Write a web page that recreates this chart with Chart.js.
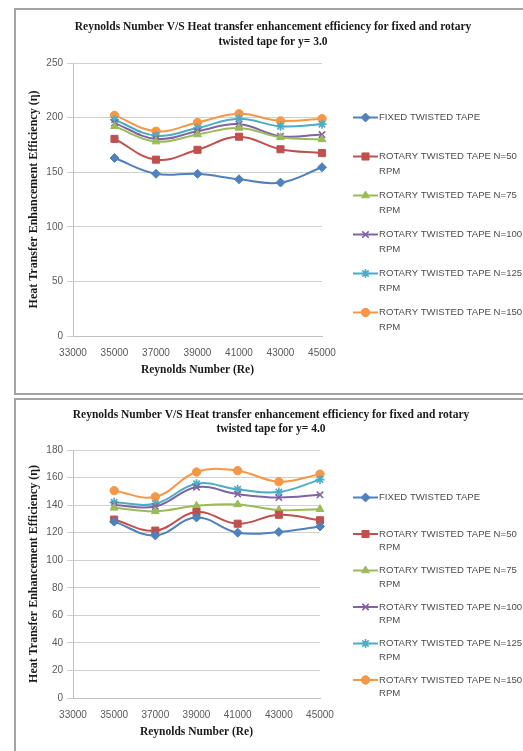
<!DOCTYPE html>
<html>
<head>
<meta charset="utf-8">
<title>Reynolds Number vs Heat Transfer Enhancement Efficiency</title>
<script src="https://cdn.jsdelivr.net/npm/chart.js@4.4.1/dist/chart.umd.min.js"></script>
<style>
  html, body { margin: 0; padding: 0; background: #ffffff; }
  body { position: relative; width: 523px; height: 751px; overflow: hidden; }
  .frame { position: absolute; left: 14px; width: 520px; border: 2px solid #a3a3a3; box-sizing: border-box; background: #ffffff; }
  #frame1 { top: 8px; height: 387px; }
  #frame2 { top: 398px; height: 370px; }
  canvas { position: absolute; left: 0; }
  #chartY3 { top: 0; }
  #chartY4 { top: 396px; }
</style>
</head>
<body>
<div class="frame" id="frame1"></div>
<div class="frame" id="frame2"></div>
<canvas id="chartY3" width="523" height="396"></canvas>
<canvas id="chartY4" width="523" height="355"></canvas>
<script>
// Reynolds numbers tested
const reynolds = [35000, 37000, 39000, 41000, 43000, 45000];
const reynoldsTicks = [33000, 35000, 37000, 39000, 41000, 43000, 45000];

const seriesNames = [
  'FIXED TWISTED TAPE',
  'ROTARY TWISTED TAPE N=50 RPM',
  'ROTARY TWISTED TAPE N=75 RPM',
  'ROTARY TWISTED TAPE N=100 RPM',
  'ROTARY TWISTED TAPE N=125 RPM',
  'ROTARY TWISTED TAPE N=150 RPM'
];

// Heat transfer enhancement efficiency, twist ratio y = 3.0
const fixedY3 = [163, 148.5, 148.5, 143.5, 140.5, 154.5];
const n50Y3   = [180.5, 161.5, 170.5, 182.5, 171, 167.5];
const n75Y3   = [192, 178, 184.5, 190.5, 182, 180];
const n100Y3  = [195, 180.5, 187.5, 194, 183, 184.5];
const n125Y3  = [198, 183.5, 190.5, 199, 192, 194];
const n150Y3  = [202, 187.5, 195.5, 203.5, 197, 199];
const effTicksY3 = [0, 50, 100, 150, 200, 250];

// Heat transfer enhancement efficiency, twist ratio y = 4.0
const fixedY4 = [128, 118, 131, 120, 120.5, 124.5];
const n50Y4   = [129.5, 121.5, 135, 126.5, 133, 129];
const n75Y4   = [138, 135.5, 139.5, 140.5, 136.5, 137];
const n100Y4  = [140, 139, 153, 148, 145.5, 147.5];
const n125Y4  = [142, 141, 155.5, 151.5, 149.5, 158.5];
const n150Y4  = [150.5, 146, 164, 165, 157, 162.5];
const effTicksY4 = [0, 20, 40, 60, 80, 100, 120, 140, 160, 180];

const seriesColors = ['#4F81BD', '#C0504D', '#9BBB59', '#8064A2', '#4BACC6', '#F79646'];
const seriesMarkers = [
  { style: 'rectRot', radius: 4.5, width: 1 },
  { style: 'rect', radius: 5, width: 1 },
  { style: 'triangle', radius: 4.5, width: 1 },
  { style: 'crossRot', radius: 4.5, width: 1.6 },
  { style: 'star', radius: 4.5, width: 1.6 },
  { style: 'circle', radius: 4.2, width: 1 }
];

const serifBold = "'Liberation Serif', 'Times New Roman', serif";
Chart.defaults.font.family = "'Liberation Sans', Arial, sans-serif";

function markerAt(ctx, m, color, x, y) {
  ctx.save();
  ctx.fillStyle = color;
  ctx.strokeStyle = color;
  ctx.lineWidth = m.width;
  if (Chart.helpers && Chart.helpers.drawPoint) {
    Chart.helpers.drawPoint(ctx, { pointStyle: m.style, radius: m.radius, borderWidth: m.width, rotation: 0 }, x, y);
  } else {
    ctx.beginPath();
    ctx.arc(x, y, m.radius, 0, Math.PI * 2);
    ctx.fill();
  }
  ctx.restore();
}

// Two-line heading above each plot
function headingPlugin(lines, cx, y0, gap) {
  return {
    id: 'heading',
    afterDraw(chart) {
      const ctx = chart.ctx;
      ctx.save();
      ctx.font = "bold 11.5px " + serifBold;
      ctx.fillStyle = '#1a1a1a';
      ctx.textAlign = 'center';
      ctx.textBaseline = 'middle';
      lines.forEach((t, i) => ctx.fillText(t, cx, y0 + i * gap));
      ctx.restore();
    }
  };
}

// Legend on the right: line sample with marker, wrapped label
function sideLegendPlugin(x0, y0, step, lineGap) {
  return {
    id: 'sideLegend',
    afterDraw(chart) {
      const ctx = chart.ctx;
      chart.data.datasets.forEach((ds, i) => {
        const y = y0 + i * step;
        ctx.save();
        ctx.strokeStyle = ds.borderColor;
        ctx.lineWidth = 2;
        ctx.beginPath();
        ctx.moveTo(x0, y);
        ctx.lineTo(x0 + 25, y);
        ctx.stroke();
        ctx.restore();
        markerAt(ctx, seriesMarkers[i], ds.borderColor, x0 + 12.5, y);
        ctx.save();
        ctx.font = "9.6px 'Liberation Sans', Arial, sans-serif";
        ctx.fillStyle = '#4d4d4d';
        ctx.textAlign = 'left';
        ctx.textBaseline = 'middle';
        const words = ds.label.split(' ');
        let lines = [ds.label];
        if (words[words.length - 1] === 'RPM') {
          lines = [words.slice(0, -1).join(' '), 'RPM'];
        }
        lines.forEach((t, k) => ctx.fillText(t, x0 + 26, y + k * lineGap));
        ctx.restore();
      });
    }
  };
}

function makeDatasets(seriesValues) {
  return seriesValues.map((vals, i) => ({
    label: seriesNames[i],
    data: reynolds.map((re, k) => ({ x: re, y: vals[k] })),
    borderColor: seriesColors[i],
    backgroundColor: seriesColors[i],
    pointBackgroundColor: seriesColors[i],
    pointBorderColor: seriesColors[i],
    pointStyle: seriesMarkers[i].style,
    pointRadius: seriesMarkers[i].radius,
    pointBorderWidth: seriesMarkers[i].width,
    borderWidth: 2,
    tension: 0.4,
    fill: false,
    clip: false
  }));
}

function makeChart(canvasId, seriesValues, yTicks, layoutPad, plugins) {
  const yMax = yTicks[yTicks.length - 1];
  return new Chart(document.getElementById(canvasId), {
    type: 'line',
    data: { datasets: makeDatasets(seriesValues) },
    options: {
      responsive: false,
      animation: false,
      devicePixelRatio: 1,
      layout: { padding: layoutPad },
      plugins: { legend: { display: false }, tooltip: { enabled: false }, title: { display: false } },
      scales: {
        x: {
          type: 'linear',
          min: reynoldsTicks[0],
          max: reynoldsTicks[reynoldsTicks.length - 1],
          afterBuildTicks: s => { s.ticks = reynoldsTicks.map(v => ({ value: v })); },
          afterFit: s => { s.height = 45; },
          grid: { display: false, drawTicks: false },
          border: { display: true, color: '#bfbfbf', width: 1 },
          ticks: {
            padding: 11,
            maxRotation: 0,
            autoSkip: false,
            color: '#595959',
            font: { size: 10 },
            callback: v => String(v)
          },
          title: {
            display: true,
            text: 'Reynolds Number (Re)',
            color: '#1a1a1a',
            font: { family: serifBold, size: 11.5, weight: 'bold' },
            padding: { top: 4, bottom: 4 }
          }
        },
        y: {
          type: 'linear',
          min: yTicks[0],
          max: yMax,
          afterBuildTicks: s => { s.ticks = yTicks.map(v => ({ value: v })); },
          afterFit: s => { s.width = 49; },
          grid: { color: '#d0d0d0', lineWidth: 1, tickLength: 6, drawTicks: true },
          border: { display: true, color: '#bfbfbf', width: 1 },
          ticks: { padding: 4, color: '#595959', font: { size: 10 } },
          title: {
            display: true,
            text: 'Heat Transfer Enhancement Efficiency (η)',
            color: '#1a1a1a',
            font: { family: serifBold, size: 12, weight: 'bold' },
            padding: { top: 3, bottom: 4 }
          }
        }
      }
    },
    plugins: plugins
  });
}

makeChart('chartY3',
  [fixedY3, n50Y3, n75Y3, n100Y3, n125Y3, n150Y3],
  effTicksY3,
  { left: 24, right: 201, top: 63, bottom: 15 },
  [
    headingPlugin(['Reynolds Number V/S Heat transfer enhancement efficiency for fixed and rotary',
                   'twisted tape for y= 3.0'], 273, 27, 15),
    sideLegendPlugin(353, 117.5, 39, 15)
  ]);

makeChart('chartY4',
  [fixedY4, n50Y4, n75Y4, n100Y4, n125Y4, n150Y4],
  effTicksY4,
  { left: 24, right: 203, top: 54, bottom: 8 },
  [
    headingPlugin(['Reynolds Number V/S Heat transfer enhancement efficiency for fixed and rotary',
                   'twisted tape for y= 4.0'], 271, 19, 14.5),
    sideLegendPlugin(353, 101.5, 36.5, 13.5)
  ]);
</script>
</body>
</html>
